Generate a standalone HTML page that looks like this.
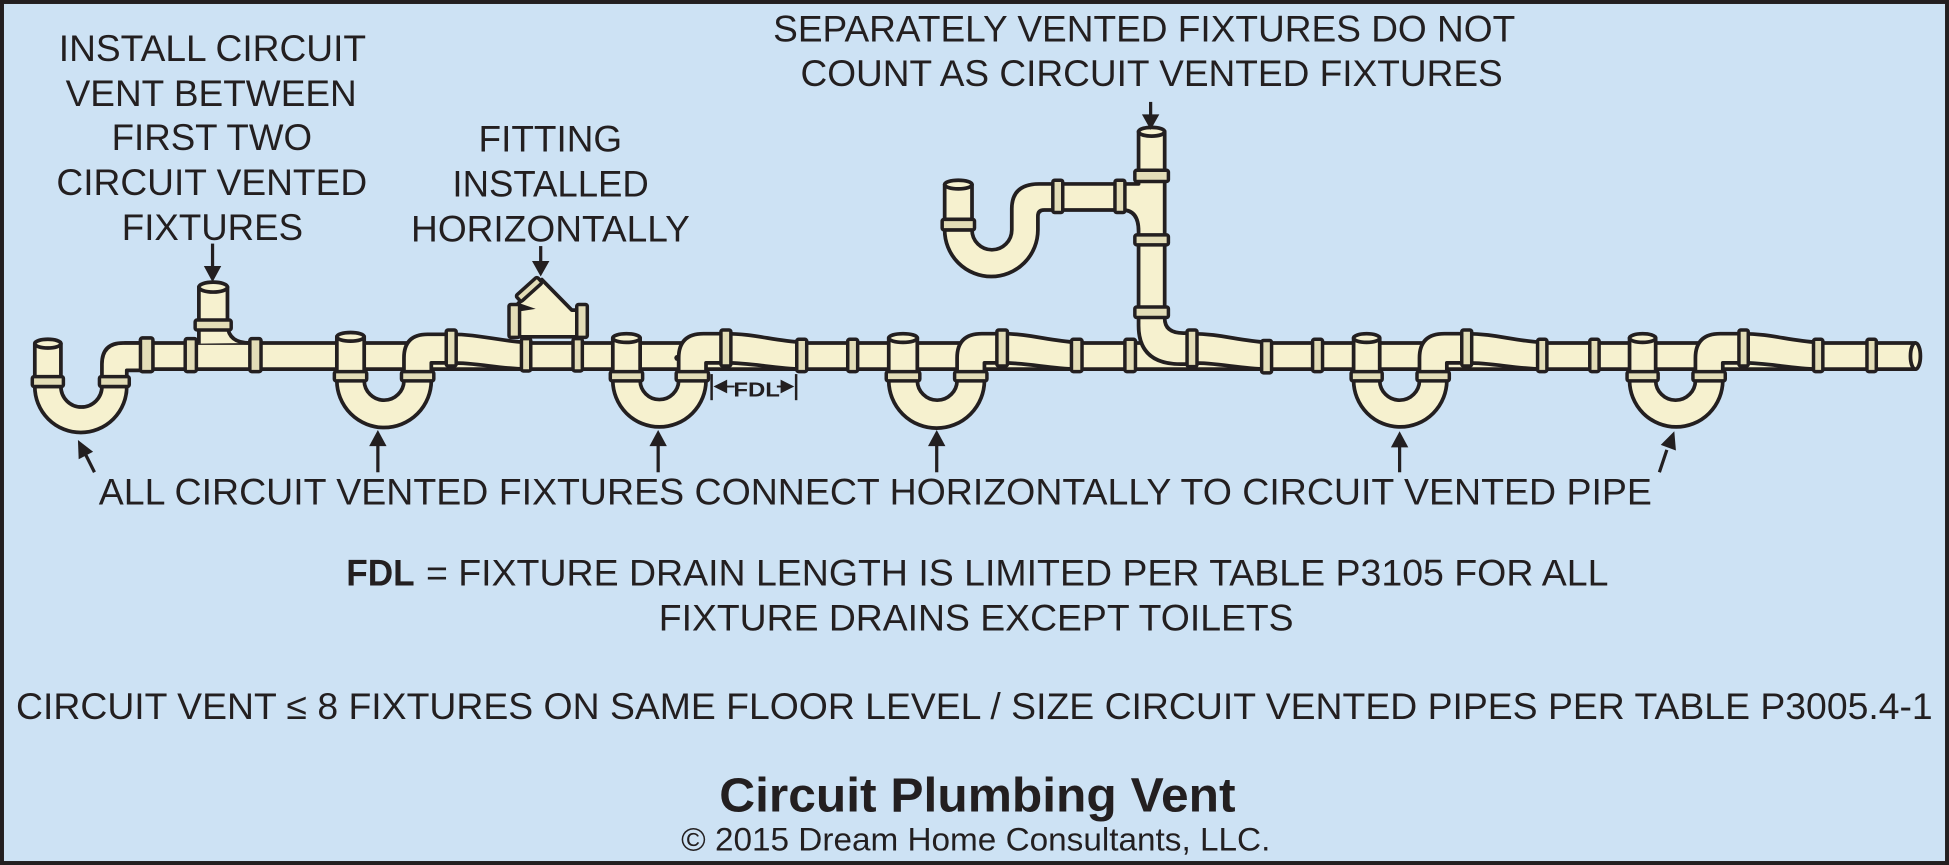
<!DOCTYPE html>
<html>
<head>
<meta charset="utf-8">
<style>
html,body{margin:0;padding:0;background:#cde2f4;}
svg{display:block;}
.p{fill:#f6f1cf;stroke:#231f20;stroke-width:3;stroke-linejoin:round;}
.b{fill:#e3ddb7;stroke:#231f20;stroke-width:2.8;stroke-linejoin:round;}
.ln{stroke:#231f20;stroke-width:2.6;fill:none;}
.hd{fill:#231f20;}
text{font-family:"Liberation Sans",Arial,sans-serif;fill:#231f20;}
.t{font-size:30px;}
</style>
</head>
<body>
<svg width="1949" height="865" viewBox="0 0 1568 696" preserveAspectRatio="none" xmlns="http://www.w3.org/2000/svg">
<!-- background + border -->
<rect x="1.6" y="1.6" width="1564.8" height="692.8" fill="#cde2f4" stroke="#231f20" stroke-width="3.2"/>

<!-- main pipe -->
<path class="p" d="M100,276 L1541,276 L1541,297 L100,297"/>
<ellipse class="p" cx="1541" cy="286.5" rx="4" ry="10.5"/>

<!-- raised arm segments -->
<path class="p" d="M363,269 C385,269 400,274 423,275.5 L423,297 C400,296.5 385,292 363,292 Z"/>
<path class="p" d="M584,268.5 C606,268.5 622,274 645,275.5 L645,297 C622,296.5 606,292 584,292 Z"/>
<path class="p" d="M806,268.5 C828,268.5 843,274 866,275.5 L866,297 C843,296.5 828,292 806,292 Z"/>
<path class="p" d="M959,268.5 C981,268.5 996,274 1019,275.5 L1019,297 C996,296.5 981,292 959,292 Z"/>
<path class="p" d="M1180,268.5 C1202,268.5 1217,274 1240,275.5 L1240,297 C1217,296.5 1202,292 1180,292 Z"/>
<path class="p" d="M1402,268.5 C1424,268.5 1439,274 1462,275.5 L1462,297 C1439,296.5 1424,292 1402,292 Z"/>

<!-- main pipe bands -->
<rect class="b" x="113" y="272" width="10" height="27" rx="1.5"/>
<rect class="b" x="149" y="272.5" width="9" height="26.5" rx="1.5"/>
<rect class="b" x="201" y="272.5" width="9" height="26.5" rx="1.5"/>
<rect class="b" x="419.5" y="272.5" width="7.5" height="26" rx="1.5"/>
<rect class="b" x="461" y="272.5" width="7.5" height="26" rx="1.5"/>
<rect class="b" x="641" y="273" width="8" height="26" rx="1.5"/>
<rect class="b" x="682" y="273" width="8" height="26" rx="1.5"/>
<rect class="b" x="862" y="273" width="8.5" height="26" rx="1.5"/>
<rect class="b" x="905" y="273" width="8.5" height="26" rx="1.5"/>
<rect class="b" x="1015" y="274" width="8" height="26" rx="1.5"/>
<rect class="b" x="1056" y="273" width="8" height="26" rx="1.5"/>
<rect class="b" x="1237" y="273" width="7.5" height="26" rx="1.5"/>
<rect class="b" x="1279" y="273" width="7.5" height="26" rx="1.5"/>
<rect class="b" x="1459" y="273" width="7.5" height="26" rx="1.5"/>
<rect class="b" x="1502" y="273" width="7.5" height="26" rx="1.5"/>

<!-- vertical stack (separately vented) -->
<path class="p" d="M903,148 L916,148 L916,106 L937,106 L937,256 L916,256 L916,186 Q916,169 903,169 Z"/>
<path class="p" d="M916,254 L916,262 Q916,293 950,293 L959,293 L959,268 L952,268 Q937,268 937,256 L937,254 Z"/>
<ellipse class="p" cx="926.5" cy="106" rx="10.5" ry="3.5"/>
<rect class="b" x="913" y="137" width="27" height="9" rx="1.5"/>
<rect class="b" x="913" y="189" width="27" height="8" rx="1.5"/>
<rect class="b" x="913" y="247" width="27" height="8.5" rx="1.5"/>
<rect class="b" x="955" y="265.5" width="8" height="29.5" rx="1.5"/>

<!-- upper S-trap fixture -->
<rect class="p" x="851" y="148" width="50" height="21"/>
<path class="p" d="M760,185 A37.5,37.5 0 0 0 835,185 L835,174 Q835,169 840,169 L851,169 L851,148 L836,148 Q814,148 814,168 L814,185 A16,16 0 0 1 782,185 Z"/>
<rect class="p" x="760" y="148.5" width="22" height="28"/>
<ellipse class="p" cx="771" cy="148.5" rx="11" ry="3.5"/>
<rect class="b" x="758" y="176.5" width="26" height="8.5" rx="1.5"/>
<rect class="b" x="847" y="145" width="8" height="26" rx="1.5"/>
<rect class="b" x="897" y="145" width="8" height="26" rx="1.5"/>

<!-- F1 -->
<path class="p" d="M28,311 A37,37 0 0 0 102,311 L82,311 A16.5,16.5 0 0 1 49,311 Z"/>
<path class="p" d="M82,304 L82,293 Q82,276 99,276 L114,276 L114,298 L102,298 L102,304 Z"/>
<rect class="b" x="113" y="272" width="10" height="27" rx="1.5"/>
<rect class="p" x="28" y="276.5" width="21" height="27"/>
<ellipse class="p" cx="38.5" cy="276.5" rx="10.5" ry="3.5"/>
<rect class="b" x="26" y="303" width="25" height="8" rx="1.5"/>
<rect class="b" x="80" y="303" width="24" height="8" rx="1.5"/>

<!-- F2 -->
<path class="p" d="M271,306 A38,38 0 0 0 347,306 L325,306 A16,16 0 0 1 293,306 Z"/>
<path class="p" d="M325,300 L325,288 Q325,269 344,269 L361,269 L361,292 L347,292 L347,300 Z"/>
<rect class="b" x="359" y="265.5" width="8" height="29" rx="1.5"/>
<rect class="p" x="271" y="271" width="22" height="28.5"/>
<ellipse class="p" cx="282" cy="271" rx="11" ry="3.5"/>
<rect class="b" x="269" y="299" width="26" height="7.5" rx="1.5"/>
<rect class="b" x="323" y="299" width="26" height="7.5" rx="1.5"/>

<!-- F3 -->
<path class="p" d="M493,306 A37.5,37.5 0 0 0 568,306 L546,306 A15.5,15.5 0 0 1 515,306 Z"/>
<path class="p" d="M546,300 L546,288 Q546,268.5 566,268.5 L582,268.5 L582,292 L568,292 L568,300 Z"/>
<circle cx="545" cy="288" r="2.5" fill="#231f20"/>
<rect class="b" x="580" y="265.5" width="8" height="29" rx="1.5"/>
<rect class="p" x="493" y="272" width="22" height="28"/>
<ellipse class="p" cx="504" cy="272" rx="11" ry="3.5"/>
<rect class="b" x="491" y="299" width="26" height="7.5" rx="1.5"/>
<rect class="b" x="544" y="299" width="26" height="7.5" rx="1.5"/>

<!-- F4 -->
<path class="p" d="M715,306 A38.5,38.5 0 0 0 792,306 L770,306 A16,16 0 0 1 738,306 Z"/>
<path class="p" d="M770,300 L770,288 Q770,268.5 790,268.5 L804,268.5 L804,292 L792,292 L792,300 Z"/>
<rect class="b" x="802" y="265.5" width="8.5" height="29" rx="1.5"/>
<rect class="p" x="715" y="272" width="23" height="28"/>
<ellipse class="p" cx="726.5" cy="272" rx="11.5" ry="3.5"/>
<rect class="b" x="713" y="299" width="27" height="7.5" rx="1.5"/>
<rect class="b" x="768" y="299" width="26" height="7.5" rx="1.5"/>

<!-- F5 -->
<path class="p" d="M1089,306 A37.5,37.5 0 0 0 1164,306 L1142,306 A16,16 0 0 1 1110,306 Z"/>
<path class="p" d="M1142,300 L1142,288 Q1142,268.5 1162,268.5 L1178,268.5 L1178,292 L1164,292 L1164,300 Z"/>
<rect class="b" x="1176" y="265.5" width="8" height="29" rx="1.5"/>
<rect class="p" x="1089" y="272" width="21" height="28"/>
<ellipse class="p" cx="1099.5" cy="272" rx="10.5" ry="3.5"/>
<rect class="b" x="1087" y="299" width="25" height="7.5" rx="1.5"/>
<rect class="b" x="1140" y="299" width="26" height="7.5" rx="1.5"/>

<!-- F6 -->
<path class="p" d="M1311,306 A37.5,37.5 0 0 0 1386,306 L1364,306 A16,16 0 0 1 1332,306 Z"/>
<path class="p" d="M1364,300 L1364,288 Q1364,268.5 1384,268.5 L1401,268.5 L1401,292 L1386,292 L1386,300 Z"/>
<rect class="b" x="1399" y="265.5" width="7.5" height="29" rx="1.5"/>
<rect class="p" x="1311" y="272" width="21" height="28"/>
<ellipse class="p" cx="1321.5" cy="272" rx="10.5" ry="3.5"/>
<rect class="b" x="1309" y="299" width="25" height="7.5" rx="1.5"/>
<rect class="b" x="1362" y="299" width="26" height="7.5" rx="1.5"/>

<!-- wye fitting installed horizontally -->
<path class="p" d="M417,271 L417,244 L422,240 L436,225 L460,249.5 L466,249.5 L466,271 Z"/>
<polygon points="418,244 431,248.5 418,250.5" fill="#231f20"/>
<rect class="b" x="-11.5" y="-3.2" width="23" height="6.4" rx="1.5" transform="translate(425.6,232.8) rotate(-42)"/>
<rect class="b" x="409.5" y="245" width="8.5" height="26.5" rx="1.5"/>
<rect class="b" x="464" y="245" width="8.5" height="26.5" rx="1.5"/>

<!-- circuit vent tee riser -->
<path class="p" d="M160,276.5 L160,231 L183,231 L183,262 Q184,276 201,276"/>
<rect class="b" x="157" y="257.5" width="29" height="8" rx="1.5"/>
<ellipse class="p" cx="171.5" cy="231" rx="11.5" ry="4"/>

<!-- FDL dimension -->
<line x1="572.5" y1="301" x2="572.5" y2="322" stroke="#231f20" stroke-width="2"/>
<line x1="640.5" y1="301" x2="640.5" y2="322" stroke="#231f20" stroke-width="2"/>
<polygon class="hd" points="574,311 585,305.5 585,316.5"/>
<polygon class="hd" points="639,311 628,305.5 628,316.5"/>
<line x1="584" y1="311" x2="591" y2="311" stroke="#231f20" stroke-width="1.5"/>
<line x1="625" y1="311" x2="629" y2="311" stroke="#231f20" stroke-width="1.5"/>
<text x="590" y="319" font-size="16.5" font-weight="bold" textLength="37.5" lengthAdjust="spacingAndGlyphs">FDL</text>

<!-- down arrows -->
<line class="ln" x1="171" y1="196" x2="171" y2="216"/>
<polygon class="hd" points="171,227 164,214 178,214"/>
<line class="ln" x1="435" y1="198" x2="435" y2="212"/>
<polygon class="hd" points="435,222.5 428,210 442,210"/>
<line class="ln" x1="925.7" y1="82" x2="925.7" y2="94"/>
<polygon class="hd" points="925.7,104.5 918.7,92 932.7,92"/>

<!-- up arrows -->
<line class="ln" x1="76" y1="380" x2="68" y2="364"/>
<polygon class="hd" points="62.7,354 74.9,363.5 63.3,369.5"/>
<line class="ln" x1="304" y1="380" x2="304" y2="356"/>
<polygon class="hd" points="304,346 297,359 311,359"/>
<line class="ln" x1="529.5" y1="380" x2="529.5" y2="356"/>
<polygon class="hd" points="529.5,346 522.5,359 536.5,359"/>
<line class="ln" x1="753.6" y1="380" x2="753.6" y2="356"/>
<polygon class="hd" points="753.6,346 746.6,359 760.6,359"/>
<line class="ln" x1="1126" y1="380" x2="1126" y2="357"/>
<polygon class="hd" points="1126,347 1119,360 1133,360"/>
<line class="ln" x1="1335" y1="380" x2="1341" y2="362"/>
<polygon class="hd" points="1347,347 1348.3,362.5 1336.1,358"/>

<!-- labels -->
<text class="t" x="47.3" y="49" textLength="247.2" lengthAdjust="spacingAndGlyphs">INSTALL CIRCUIT</text>
<text class="t" x="52.8" y="85.3" textLength="234.2" lengthAdjust="spacingAndGlyphs">VENT BETWEEN</text>
<text class="t" x="89.8" y="120.7" textLength="161.2" lengthAdjust="spacingAndGlyphs">FIRST TWO</text>
<text class="t" x="45.4" y="157" textLength="250" lengthAdjust="spacingAndGlyphs">CIRCUIT VENTED</text>
<text class="t" x="98" y="193" textLength="145.8" lengthAdjust="spacingAndGlyphs">FIXTURES</text>

<text class="t" x="385" y="122" textLength="115.5" lengthAdjust="spacingAndGlyphs">FITTING</text>
<text class="t" x="364" y="158" textLength="158" lengthAdjust="spacingAndGlyphs">INSTALLED</text>
<text class="t" x="330.7" y="194.4" textLength="224.3" lengthAdjust="spacingAndGlyphs">HORIZONTALLY</text>

<text class="t" x="622" y="33.5" textLength="597" lengthAdjust="spacingAndGlyphs">SEPARATELY VENTED FIXTURES DO NOT</text>
<text class="t" x="644" y="69.2" textLength="565" lengthAdjust="spacingAndGlyphs">COUNT AS CIRCUIT VENTED FIXTURES</text>

<text class="t" x="79.5" y="405.8" textLength="1249.5" lengthAdjust="spacingAndGlyphs">ALL CIRCUIT VENTED FIXTURES CONNECT HORIZONTALLY TO CIRCUIT VENTED PIPE</text>

<text class="t" x="278.6" y="471.2" font-weight="bold" textLength="55" lengthAdjust="spacingAndGlyphs">FDL</text>
<text class="t" x="342.7" y="471.2" textLength="951.3" lengthAdjust="spacingAndGlyphs">= FIXTURE DRAIN LENGTH IS LIMITED PER TABLE P3105 FOR ALL</text>
<text class="t" x="530" y="507.4" textLength="510.7" lengthAdjust="spacingAndGlyphs">FIXTURE DRAINS EXCEPT TOILETS</text>

<text class="t" x="12.9" y="578.7" textLength="1542" lengthAdjust="spacingAndGlyphs">CIRCUIT VENT ≤ 8 FIXTURES ON SAME FLOOR LEVEL / SIZE CIRCUIT VENTED PIPES PER TABLE P3005.4-1</text>

<text x="578.6" y="653" font-size="39" font-weight="bold" textLength="415.4" lengthAdjust="spacingAndGlyphs">Circuit Plumbing Vent</text>
<text x="548" y="684.4" font-size="26" textLength="474" lengthAdjust="spacingAndGlyphs">© 2015 Dream Home Consultants, LLC.</text>
</svg>
</body>
</html>
